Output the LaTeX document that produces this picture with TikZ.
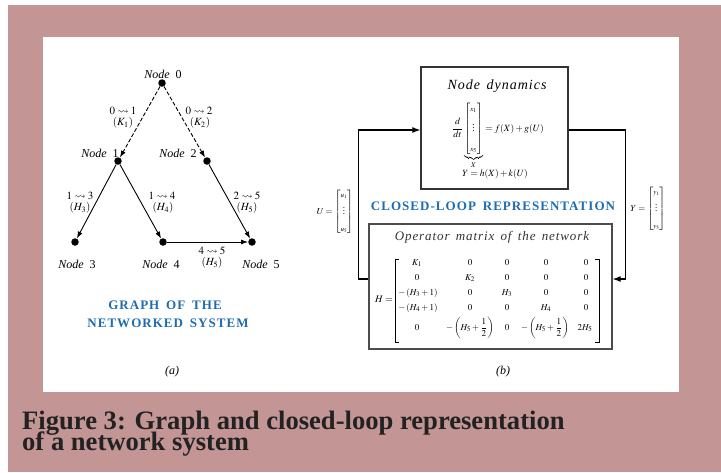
\documentclass[tikz,border=0pt]{standalone}
\usepackage{amsmath,amssymb}
\usepackage{mathptmx}
\usepackage{fontspec}
\setmainfont{Liberation Serif}
\newfontfamily\capsfont[LetterSpace=8,WordSpace=1.6]{Liberation Serif}
\newfontfamily\spit[LetterSpace=7,WordSpace=1.5]{Liberation Serif}
\usetikzlibrary{arrows.meta}
\definecolor{rose}{HTML}{C49595}
\definecolor{capblue}{HTML}{1F6DB0}
\definecolor{captext}{HTML}{222222}
\newcommand{\smalldots}{\vbox{\baselineskip=2.6pt\lineskiplimit=0pt\hbox{.}\hbox{.}\hbox{.}}}
\begin{document}
\begin{tikzpicture}[x=1pt,y=-1pt,
  dot/.style={circle,fill=black,inner sep=0pt,minimum size=7.5pt},
  nodelbl/.style={font=\fontsize{12}{14}\selectfont,inner sep=0pt},
  elbl/.style={font=\fontsize{11}{13}\selectfont,inner sep=0pt},
  edge/.style={line width=0.9pt,-{Latex[length=7pt,width=5pt]}},
  dashedge/.style={edge,dash pattern=on 4pt off 2pt},
  bluecap/.style={font=\fontsize{13}{15}\selectfont\capsfont\bfseries,text=capblue,inner sep=0pt},
  box/.style={draw=black!80,line width=1.3pt,inner sep=0pt},
  conn/.style={line width=1.2pt,-{Latex[length=8pt,width=6pt]}},
  mat/.style={font=\fontsize{9}{10}\selectfont,inner sep=0pt},
  capline/.style={font=\fontsize{26.6}{26}\selectfont\bfseries,text=captext,inner sep=0pt,anchor=base west}
]
\useasboundingbox (0,0) rectangle (721,472);
\fill[white] (0,0) rectangle (721,472);
\fill[rose] (8,5) rectangle (721,472);
\fill[white] (43,37) rectangle (679,392);

% ---------- graph (a)
\node[dot] (n0) at (162,83) {};
\node[dot] (n1) at (118,161) {};
\node[dot] (n2) at (207,161) {};
\node[dot] (n3) at (75,242) {};
\node[dot] (n4) at (163,242) {};
\node[dot] (n5) at (252,242) {};

\draw[dashedge] (n0) -- (n1);
\draw[dashedge] (n0) -- (n2);
\draw[edge] (n1) -- (n3);
\draw[edge] (n1) -- (n4);
\draw[edge] (n2) -- (n5);
\draw[edge] (n4) -- (n5);

\node[nodelbl] (l0) at (163,74) {\textit{Node}\ \ 0};
\node[nodelbl] (l1) at (100,153) {\textit{Node}\ \ 1};
\node[nodelbl] (l2) at (178,153) {\textit{Node}\ \ 2};
\node[nodelbl] (l3) at (77,264) {\textit{Node}\ \ 3};
\node[nodelbl] (l4) at (161,264) {\textit{Node}\ \ 4};
\node[nodelbl] (l5) at (261,264) {\textit{Node}\ \ 5};

\node[elbl] (e01) at (123,111) {$0\rightsquigarrow 1$};
\node[elbl] (k1) at (123,123) {$(K_1)$};
\node[elbl] (e02) at (199,111) {$0\rightsquigarrow 2$};
\node[elbl] (k2) at (200,123) {$(K_2)$};
\node[elbl] (e13) at (80,196) {$1\rightsquigarrow 3$};
\node[elbl] (h3) at (80,208) {$(H_3)$};
\node[elbl] (e14) at (162,196) {$1\rightsquigarrow 4$};
\node[elbl] (h4) at (163,208) {$(H_4)$};
\node[elbl] (e25) at (247,196) {$2\rightsquigarrow 5$};
\node[elbl] (h5a) at (247,208) {$(H_5)$};
\node[elbl] (e45) at (212,251) {$4\rightsquigarrow 5$};
\node[elbl] (h5b) at (212,263) {$(H_5)$};

\node[bluecap] (g1) at (165,305) {GRAPH OF THE};
\node[bluecap] (g2) at (168,323) {NETWORKED SYSTEM};

\node[elbl,font=\fontsize{12}{14}\selectfont\itshape] (ta) at (172,372) {(a)};
\node[elbl,font=\fontsize{12}{14}\selectfont\itshape] (tb) at (503,372) {(b)};

% ---------- closed loop (b)
\node[box,minimum width=147pt,minimum height=122pt] (nd) at (494.5,128) {};
\node[inner sep=0pt,font=\fontsize{14}{16}\selectfont\spit\itshape] (ndt) at (497,86) {Node dynamics};
\node[inner sep=0pt,font=\fontsize{9.5}{11}\selectfont] (eq1) at (498,136)
  {$\dfrac{d}{dt}\underbrace{\begin{bmatrix}\scriptstyle x_1\\[9pt]\smalldots\\[9pt]\scriptstyle x_5\end{bmatrix}}_{X}=f(X)+g(U)$};
\node[inner sep=0pt,font=\fontsize{9.5}{11}\selectfont] (eq2) at (495,174) {$Y=h(X)+k(U)$};

\node[box,draw=black!70,minimum width=243pt,minimum height=125pt] (op) at (490.5,286.5) {};
\node[inner sep=0pt,font=\fontsize{13}{15}\selectfont\spit\itshape,text=black!80] (opt) at (492,237) {Operator matrix of the network};

\draw[conn] ([yshift=-2pt]nd.east) -- ++(57,0) |- ([yshift=7.5pt]op.east);
\draw[conn] ([yshift=7.5pt]op.west) -- ++(-10,0) |- ([yshift=-2pt]nd.west);

\node[bluecap] (clr) at (493,206) {CLOSED-LOOP REPRESENTATION};

\node[inner sep=0pt,font=\fontsize{9}{10}\selectfont] (uvec) at (335,212)
  {$U=\begin{bmatrix}\scriptstyle u_1\\[7pt]\smalldots\\[7pt]\scriptstyle u_5\end{bmatrix}$};
\node[inner sep=0pt,font=\fontsize{9}{10}\selectfont] (yvec) at (648,209)
  {$Y=\begin{bmatrix}\scriptstyle y_1\\[7pt]\smalldots\\[7pt]\scriptstyle y_5\end{bmatrix}$};

% matrix H
\node[mat,font=\fontsize{10}{12}\selectfont] (hl) at (384,299) {$H=$};
\draw[line width=0.8pt] (399,259) -- (395,259) -- (395,342) -- (399,342);
\draw[line width=0.8pt] (595,259) -- (599,259) -- (599,342) -- (595,342);
\node[mat] (m11) at (417,263) {$K_1$};
\node[mat] (m12) at (470,263) {$0$};
\node[mat] (m13) at (507,263) {$0$};
\node[mat] (m14) at (546,263) {$0$};
\node[mat] (m15) at (586,263) {$0$};
\node[mat] (m21) at (417,278) {$0$};
\node[mat] (m22) at (470,278) {$K_2$};
\node[mat] (m23) at (507,278) {$0$};
\node[mat] (m24) at (546,278) {$0$};
\node[mat] (m25) at (586,278) {$0$};
\node[mat] (m31) at (418,293) {$-\left(H_3+1\right)$};
\node[mat] (m32) at (470,293) {$0$};
\node[mat] (m33) at (507,293) {$H_3$};
\node[mat] (m34) at (546,293) {$0$};
\node[mat] (m35) at (586,293) {$0$};
\node[mat] (m41) at (418,308) {$-\left(H_4+1\right)$};
\node[mat] (m42) at (470,308) {$0$};
\node[mat] (m43) at (507,308) {$0$};
\node[mat] (m44) at (546,308) {$H_4$};
\node[mat] (m45) at (586,308) {$0$};
\node[mat] (m51) at (417,328) {$0$};
\node[mat] (m52) at (470,328) {$-\left(H_5+\dfrac{1}{2}\right)$};
\node[mat] (m53) at (507,328) {$0$};
\node[mat] (m54) at (545,328) {$-\left(H_5+\dfrac{1}{2}\right)$};
\node[mat] (m55) at (585,328) {$2H_5$};

% ---------- caption
\node[capline] (c1) at (22,429) {Figure 3: Graph and closed-loop representation};
\node[capline] (c2) at (22,450) {of a network system};
\end{tikzpicture}
\end{document}
